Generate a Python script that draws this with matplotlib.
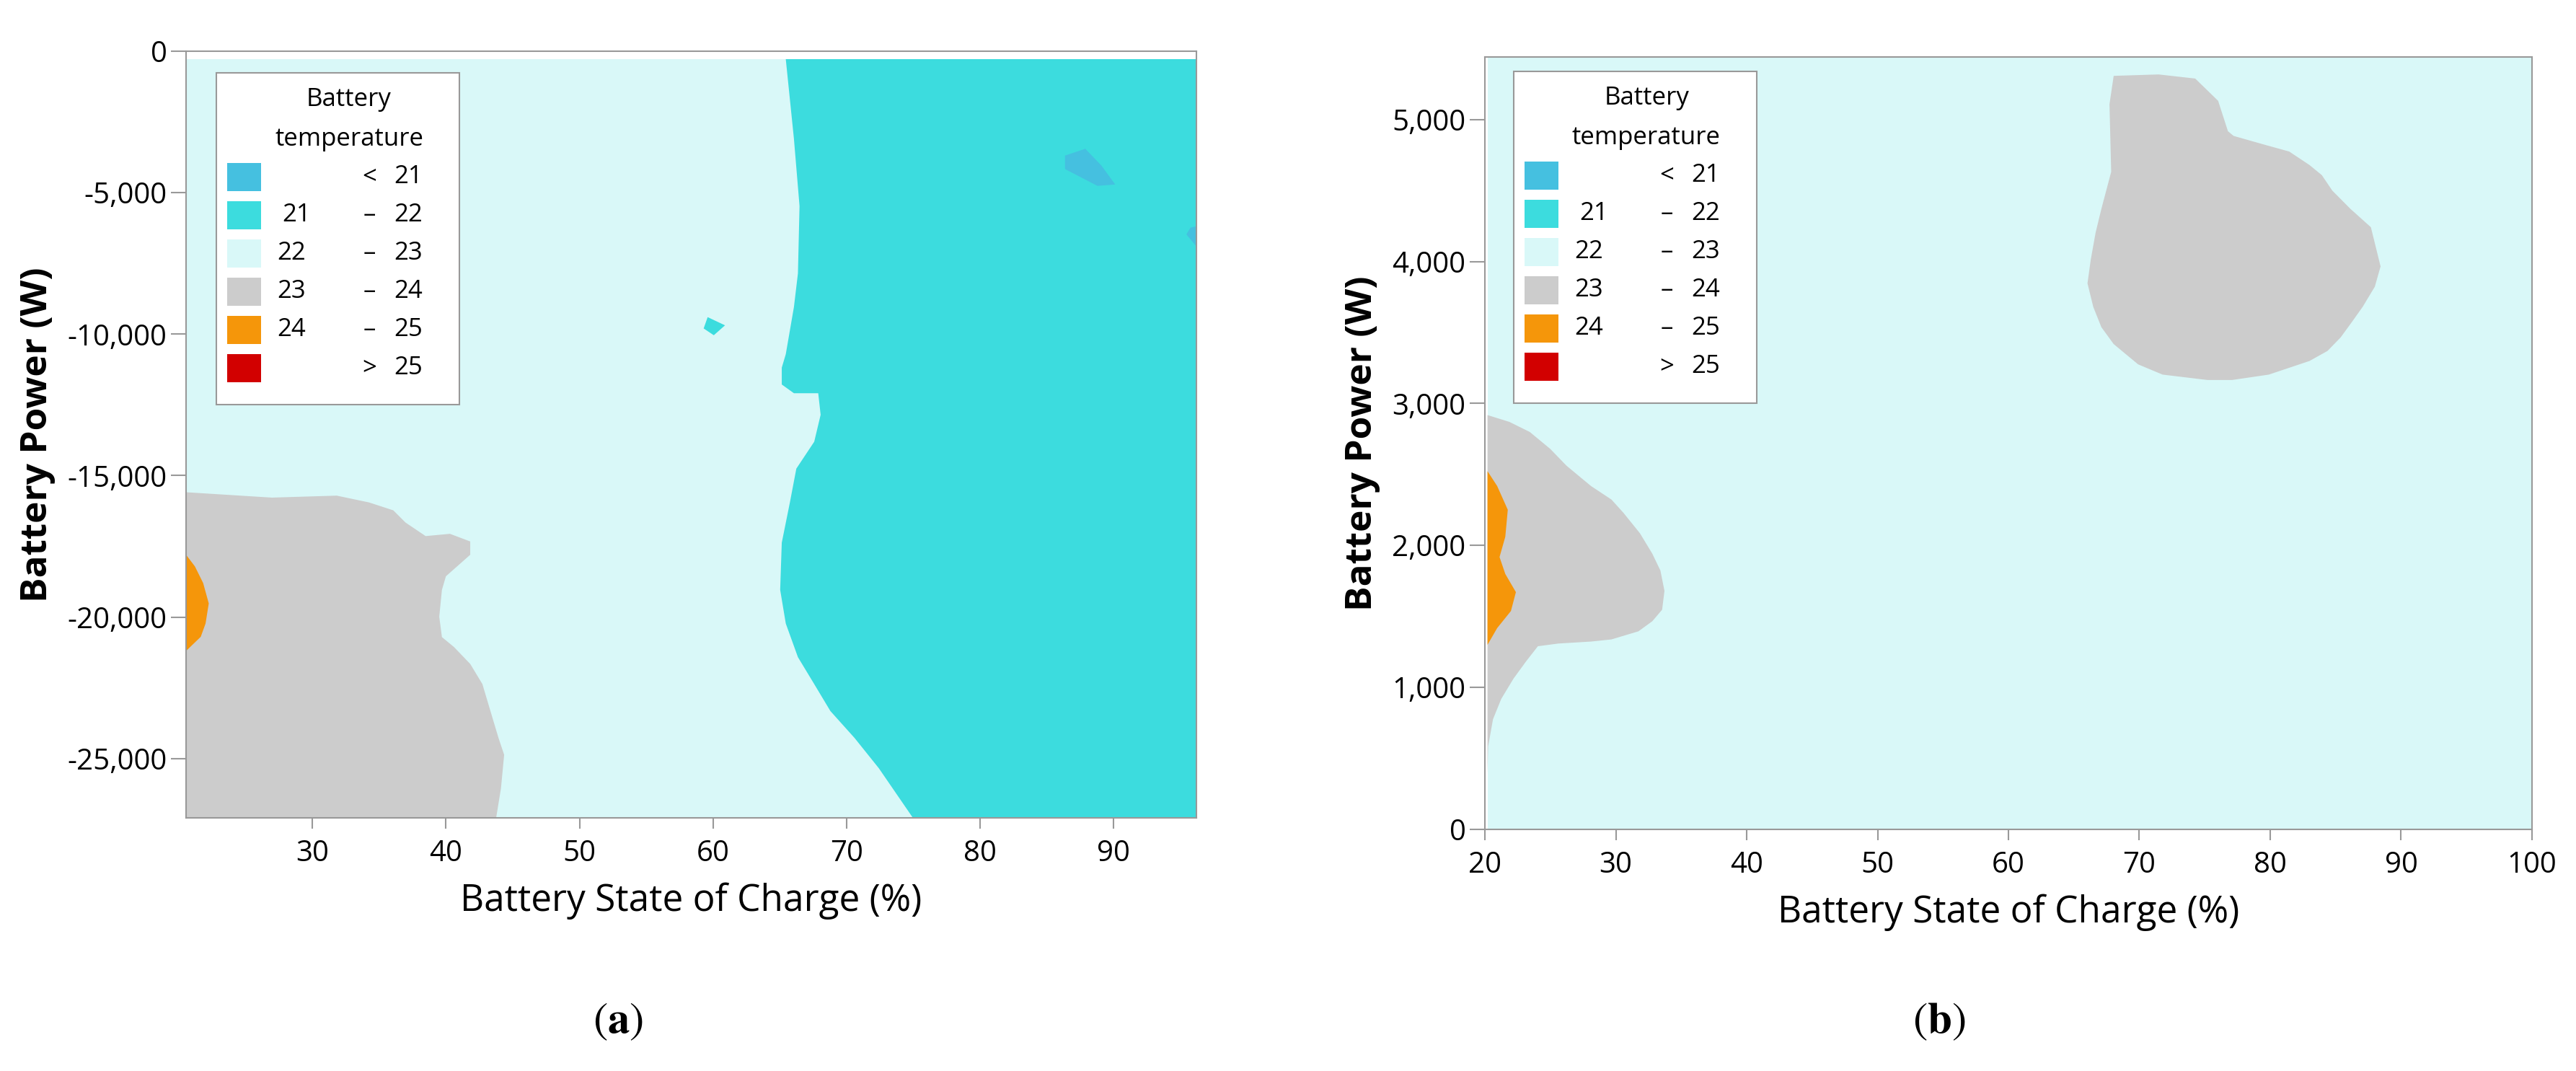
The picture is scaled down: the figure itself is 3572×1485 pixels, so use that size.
import matplotlib
matplotlib.use("Agg")
import matplotlib.pyplot as plt
from matplotlib.patches import Rectangle
from matplotlib.ticker import FuncFormatter

plt.rcParams['font.family'] = ['Open Sans', 'DejaVu Sans']

# ---------------- data ----------------
levels = ["< 21", "21 – 22", "22 – 23", "23 – 24", "24 – 25", "> 25"]
level_lo = ["", "21", "22", "23", "24", ""]
level_sym = ["<", "–", "–", "–", "–", ">"]
level_hi = ["21", "22", "23", "24", "25", "25"]
colors = ["#45C0E0", "#3CDCDE", "#D9F8F8", "#CCCCCC", "#F5960A", "#D20000"]

# panel (a): discharge
a_xlim = (20.54, 96.2)
a_ylim = (-27100, 0)
a_extent_x = [20.54, 96.2, 96.2, 20.54]
a_extent_y = [-280, -280, -27100, -27100]
a_cyan_x = [65.45, 66.06, 66.48, 66.36, 66.06, 65.45, 65.15, 65.15, 66.06, 67.88, 68.06, 67.58, 66.24,
            65.76, 65.15, 65.03, 65.45, 66.36, 67.58, 68.79, 70.6, 72.42, 74.97, 96.2, 96.2]
a_cyan_y = [-280, -3094, -5474, -7854, -9044, -10710, -11186, -11781, -12090, -12090, -12852, -13804,
            -14756, -15946, -17374, -19040, -20230, -21420, -22372, -23324, -24276, -25347, -27100, -27100, -280]
a_blob_x = [59.6, 60.9, 60.06, 59.3]
a_blob_y = [-9400, -9690, -10040, -9800]
a_blue1_x = [86.36, 87.88, 89.09, 90.12, 88.79, 86.36]
a_blue1_y = [-3690, -3450, -4046, -4712, -4760, -4165]
a_blue2_x = [96.2, 95.76, 95.45, 96.2]
a_blue2_y = [-6190, -6235, -6475, -6900]
a_gray_x = [20.54, 26.97, 31.82, 34.24, 36.06, 36.97, 38.48, 40.3, 41.82, 41.82, 40.0, 39.7, 39.5, 39.7,
            40.6, 41.82, 42.73, 43.33, 43.94, 44.36, 44.12, 43.76, 20.54]
a_gray_y = [-15590, -15780, -15710, -15950, -16230, -16660, -17140, -17060, -17330, -17800, -18560,
            -19040, -19990, -20710, -21060, -21660, -22370, -23320, -24280, -24870, -26060, -27100, -27100]
a_orange_x = [20.54, 21.2, 21.82, 22.24, 22.0, 21.64, 20.54]
a_orange_y = [-17800, -18210, -18800, -19520, -20230, -20700, -21200]

# panel (b): charge
b_xlim = (20, 100)
b_ylim = (0, 5440)
b_extent_x = [20.2, 100, 100, 20.2]
b_extent_y = [5440, 5440, 0, 0]
b_gray1_x = [68.04, 71.47, 74.27, 76.02, 76.77, 77.2, 79.57, 81.45, 83.0, 83.94, 84.75, 86.13, 87.69,
             88.43, 87.99, 87.06, 86.25, 85.38, 84.38, 83.0, 79.89, 77.08, 75.21, 71.78, 69.91, 68.04,
             67.1, 66.48, 66.04, 66.29, 66.66, 67.1, 67.85, 67.72]
b_gray1_y = [5307, 5317, 5288, 5131, 4917, 4884, 4822, 4774, 4679, 4608, 4498, 4370, 4241, 3965, 3822,
             3680, 3575, 3465, 3370, 3299, 3203, 3165, 3165, 3203, 3275, 3418, 3537, 3680, 3846, 4013,
             4203, 4370, 4631, 5107]
b_gray2_x = [20.2, 21.87, 23.43, 24.99, 26.24, 28.11, 29.67, 30.6, 31.85, 32.79, 33.41, 33.72, 33.54,
             32.79, 31.73, 29.67, 28.11, 25.61, 24.05, 23.12, 22.18, 21.25, 20.62, 20.25, 20.2]
b_gray2_y = [2918, 2870, 2799, 2680, 2561, 2418, 2323, 2228, 2085, 1942, 1823, 1680, 1547, 1466, 1395,
             1338, 1323, 1309, 1290, 1180, 1061, 919, 776, 585, 395]
b_orange_x = [20.2, 20.94, 21.75, 21.56, 21.12, 21.56, 22.37, 21.99, 20.94, 20.2]
b_orange_y = [2523, 2418, 2251, 2061, 1918, 1799, 1671, 1538, 1418, 1300]

W, H = 3573, 1485
fig = plt.figure(figsize=(W / 100, H / 100), dpi=100)

def make_ax(l, r, b, t):
    return fig.add_axes([l / W, 1 - b / H, (r - l) / W, (b - t) / H])

axA = make_ax(258, 1659, 1134, 71)
axB = make_ax(2059, 3511, 1150, 79)

def style(ax, xlim, ylim, xticks, yticks):
    ax.set_xlim(*xlim)
    ax.set_ylim(*ylim)
    ax.set_xticks(xticks)
    ax.set_yticks(yticks)
    ax.yaxis.set_major_formatter(FuncFormatter(lambda v, p: f"{int(v):,}"))
    for s in ax.spines.values():
        s.set_color("#999999")
        s.set_linewidth(1.5)
    ax.tick_params(axis='x', length=11, width=1.5, color="#999999", labelsize=29, pad=10)
    ax.tick_params(axis='y', length=15, width=1.5, color="#999999", labelsize=29, pad=4)
    ax.set_xlabel("Battery State of Charge (%)", fontsize=37, labelpad=14)
    ax.set_ylabel("Battery Power (W)", fontsize=37, fontweight='bold', labelpad=12)

def legend(ax, axw, axh, x0, y0):
    fx = lambda px: px / axw
    fy = lambda py: 1 - py / axh
    tr = ax.transAxes
    ax.add_patch(Rectangle((fx(x0), fy(y0 + 460)), fx(337), 460 / axh, transform=tr,
                           facecolor="white", edgecolor="#999999", lw=1.5, zorder=5))
    cx = x0 + 184
    ax.text(fx(cx), fy(y0 + 37), "Battery", transform=tr, ha='center', va='center', fontsize=25, zorder=6)
    ax.text(fx(cx), fy(y0 + 92), "temperature", transform=tr, ha='center', va='center', fontsize=25, zorder=6)
    for k in range(6):
        yc = y0 + 144 + 53 * k
        ax.add_patch(Rectangle((fx(x0 + 15), fy(yc + 19.5)), fx(47), 39 / axh, transform=tr,
                               facecolor=colors[k], edgecolor='none', zorder=6))
        ax.text(fx(x0 + 84 + (7 if level_lo[k] == "21" else 0)), fy(yc), level_lo[k], transform=tr,
                ha='left', va='center', fontsize=25, zorder=6)
        ax.text(fx(x0 + 212), fy(yc), level_sym[k], transform=tr, ha='center', va='center', fontsize=25, zorder=6)
        ax.text(fx(x0 + 246), fy(yc), level_hi[k], transform=tr, ha='left', va='center', fontsize=25, zorder=6)

# panel a
axA.fill(a_extent_x, a_extent_y, color=colors[2], lw=0)
axA.fill(a_cyan_x, a_cyan_y, color=colors[1], lw=0)
axA.fill(a_blob_x, a_blob_y, color=colors[1], lw=0)
axA.fill(a_blue1_x, a_blue1_y, color=colors[0], lw=0)
axA.fill(a_blue2_x, a_blue2_y, color=colors[0], lw=0)
axA.fill(a_gray_x, a_gray_y, color=colors[3], lw=0)
axA.fill(a_orange_x, a_orange_y, color=colors[4], lw=0)
style(axA, a_xlim, a_ylim, [30, 40, 50, 60, 70, 80, 90], [0, -5000, -10000, -15000, -20000, -25000])
legend(axA, 1401, 1063, 42, 30)

# panel b
axB.fill(b_extent_x, b_extent_y, color=colors[2], lw=0)
axB.fill(b_gray1_x, b_gray1_y, color=colors[3], lw=0)
axB.fill(b_gray2_x, b_gray2_y, color=colors[3], lw=0)
axB.fill(b_orange_x, b_orange_y, color=colors[4], lw=0)
style(axB, b_xlim, b_ylim, [20, 30, 40, 50, 60, 70, 80, 90, 100], [0, 1000, 2000, 3000, 4000, 5000])
legend(axB, 1452, 1071, 40, 20)

plt.rcParams['mathtext.fontset'] = 'stix'
fig.text(857 / W, 1 - 1417 / H, r"($\mathbf{a}$)", ha='center', va='center', fontsize=44, family='STIXGeneral')
fig.text(2689 / W, 1 - 1417 / H, r"($\mathbf{b}$)", ha='center', va='center', fontsize=44, family='STIXGeneral')

fig.savefig("out.png", dpi=100, facecolor="white")
